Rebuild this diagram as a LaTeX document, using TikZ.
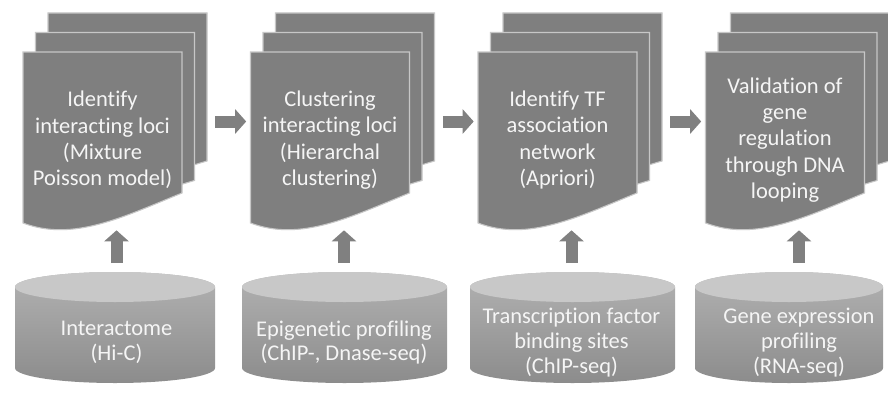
\documentclass[tikz,border=0pt]{standalone}
\definecolor{pagegray}{RGB}{127,127,127}
\definecolor{arrowgray}{RGB}{128,128,128}
\definecolor{lidgray}{RGB}{200,200,200}
\definecolor{bodytop}{RGB}{178,178,178}
\definecolor{bodybot}{RGB}{140,140,140}
\usepackage{fontspec}
\setmainfont[Ligatures=NoCommon]{Carlito}
\usepackage{tikz}
\usetikzlibrary{positioning,arrows.meta}

\begin{document}
\begin{tikzpicture}[
            x=0.02cm, y=0.02cm,
            stack/.style={rectangle, minimum width=3.74cm, minimum height=4.34cm, inner sep=0pt},
            steptext/.style={text=white!96!black, align=center, font=\fontsize{12.8}{15}\selectfont},
            dbtext/.style={text=white!96!black, align=center, font=\fontsize{12.8}{14.2}\selectfont},
            flow/.style={draw=arrowgray, line width=0.24cm, -{Triangle[width=0.48cm, length=0.22cm]}},
            sheet/.style={fill=pagegray, draw=white!78!black, line width=0.6pt},
            pics/pages/.style={code={
                \foreach \dx/\dy/\rb in {25/39/148, 12.5/19.5/148, 0/0/141} {
                    \begin{scope}[shift={({-93.5+\dx},{69.5+\dy})}]
                        \path[sheet] (0,0) -- (159,0) -- (159,-\rb)
                            .. controls (100,-165) and (50,-190) .. (0,-171) -- cycle;
                    \end{scope}
                }
            }},
            pics/dbase/.style={code={
                \shade[top color=bodytop, bottom color=bodybot] (-#1,0) -- (-#1,-81)
                    arc[start angle=180, end angle=360, x radius=#1, y radius=15]
                    -- (#1,0) arc[start angle=0, end angle=180, x radius=#1, y radius=15] -- cycle;
                \fill[lidgray] (0,0) ellipse[x radius=#1, y radius=15];
                \coordinate (-top) at (0,15);
            }}
        ]
            \useasboundingbox[fill=white] (0,0) rectangle (888,393);

            % document stacks
            \node[stack] (k1) at (116.5,271.5) {};
            \node[stack] (k2) at (344,271.5) {};
            \node[stack] (k3) at (571.5,271.5) {};
            \node[stack] (k4) at (799,271.5) {};
            \pic at (k1.center) {pages};
            \pic at (k2.center) {pages};
            \pic at (k3.center) {pages};
            \pic at (k4.center) {pages};

            \node[steptext] (s1) at (102.5,253) {Identify\\interacting loci\\(Mixture\\Poisson model)};
            \node[steptext] (s2) at (330,253) {Clustering\\interacting loci\\(Hierarchal\\clustering)};
            \node[steptext] (s3) at (557.5,253) {Identify TF\\association\\network\\(Apriori)};
            \node[steptext] (s4) at (785,253) {Validation of\\gene\\regulation\\through DNA\\looping};

            % data sources
            \pic (c1) at (115,106) {dbase=100};
            \pic (c2) at (344.5,106) {dbase=102.5};
            \pic (c3) at (572.5,106) {dbase=102.5};
            \pic (c4) at (789,106) {dbase=94};

            \node[dbtext] (d1) at (116.5,50.5) {Interactome\\(Hi-C)};
            \node[dbtext] (d2) at (344,50.5) {Epigenetic profiling\\(ChIP-, Dnase-seq)};
            \node[dbtext] (d3) at (571.5,50.5) {Transcription factor\\binding sites\\(ChIP-seq)};
            \node[dbtext] (d4) at (799,50.5) {Gene expression\\profiling\\(RNA-seq)};

            \draw[flow, shorten <=0.1cm, shorten >=0.08cm] (k1) -- (k2);
            \draw[flow, shorten <=0.1cm, shorten >=0.08cm] (k2) -- (k3);
            \draw[flow, shorten <=0.1cm, shorten >=0.08cm] (k3) -- (k4);

            \draw[flow, shorten <=0.18cm] (k1 |- c1-top) -- (k1.south);
            \draw[flow, shorten <=0.18cm] (k2 |- c2-top) -- (k2.south);
            \draw[flow, shorten <=0.18cm] (k3 |- c3-top) -- (k3.south);
            \draw[flow, shorten <=0.18cm] (k4 |- c4-top) -- (k4.south);
        \end{tikzpicture}
\end{document}
